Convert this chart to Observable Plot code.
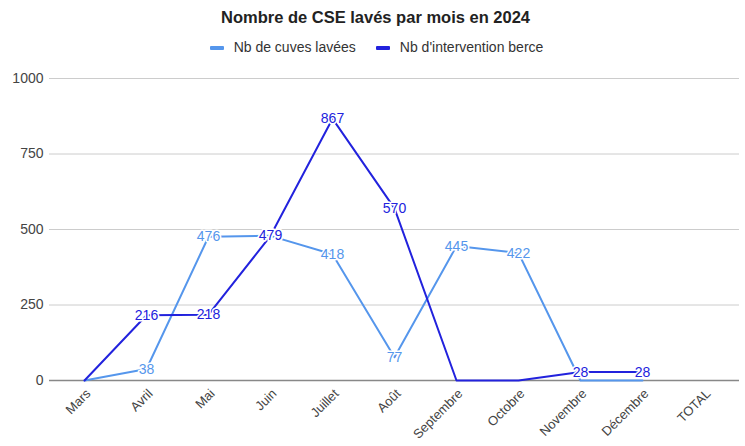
<!DOCTYPE html>
<html><head><meta charset="utf-8">
<script src="https://cdn.jsdelivr.net/npm/d3@7"></script>
<script src="https://cdn.jsdelivr.net/npm/@observablehq/plot@0.6"></script>
<style>
body{margin:0;background:#fff;font-family:"Liberation Sans",Arial,sans-serif;}
#wrap{width:745px;}
#title{height:34px;line-height:34px;text-align:center;font-weight:bold;font-size:16.5px;color:#222;padding-left:6px;box-sizing:border-box;}
#legend{height:28px;display:flex;justify-content:center;align-items:center;gap:20px;font-size:14px;color:#333;padding-left:8px;box-sizing:border-box;margin-top:-1px;}
.sw{display:inline-block;width:14px;height:4px;border-radius:1px;margin-right:10px;vertical-align:middle;}
</style></head>
<body><div id="wrap">
<div id="title">Nombre de CSE lavés par mois en 2024</div>
<div id="legend"></div>
<div id="chart"></div>
</div>
<script>
const months = ["Mars","Avril","Mai","Juin","Juillet","Août","Septembre","Octobre","Novembre","Décembre","TOTAL"];
const cuves = [0,38,476,479,418,77,445,422,0,0,null];
const berce = [0,216,218,479,867,570,0,0,28,28,null];
const seriesNames = ["Nb de cuves lavées","Nb d'intervention berce"];
const colors = ["#5596ec","#2222dd"];
const yTicks = [0,250,500,750,1000];

const legend = document.getElementById("legend");
seriesNames.forEach((n,i)=>{
  const s=document.createElement("span");
  s.innerHTML=`<span class="sw" style="background:${colors[i]}"></span>${n}`;
  legend.appendChild(s);
});

const data = [];
[cuves,berce].forEach((arr,si)=>{
  arr.forEach((v,i)=>{ if(v!==null) data.push({month:months[i],value:v,series:seriesNames[si]}); });
});
const labeled = data.filter(d=>d.value>0);

const chart = Plot.plot({
  width:745, height:384,
  marginLeft:49, marginRight:6, marginTop:17, marginBottom:65,
  style:{fontFamily:"'Liberation Sans', Arial, sans-serif", fontSize:"14px", color:"#444"},
  x:{type:"point", domain:months, padding:0.53, label:null},
  y:{domain:[0,1000], ticks:yTicks, tickFormat:d=>String(d), label:null, tickSize:0, tickPadding:6},
  color:{domain:seriesNames, range:colors},
  marks:[
    Plot.axisX({tickSize:0, tickRotate:-45, tickPadding:8, dx:4, dy:3, fontSize:13, label:null}),
    Plot.gridY(yTicks.filter(t=>t>0),{stroke:"#ccc",strokeOpacity:1}),
    Plot.ruleY([0],{stroke:"#888",strokeWidth:1.5}),
    Plot.line(data,{x:"month",y:"value",z:"series",stroke:"series",strokeWidth:2}),
    Plot.text(labeled,{x:"month",y:"value",text:d=>String(d.value),fill:"series",stroke:"white",strokeWidth:3,fontSize:14})
  ]
});
document.getElementById("chart").appendChild(chart);
</script>
</body></html>
